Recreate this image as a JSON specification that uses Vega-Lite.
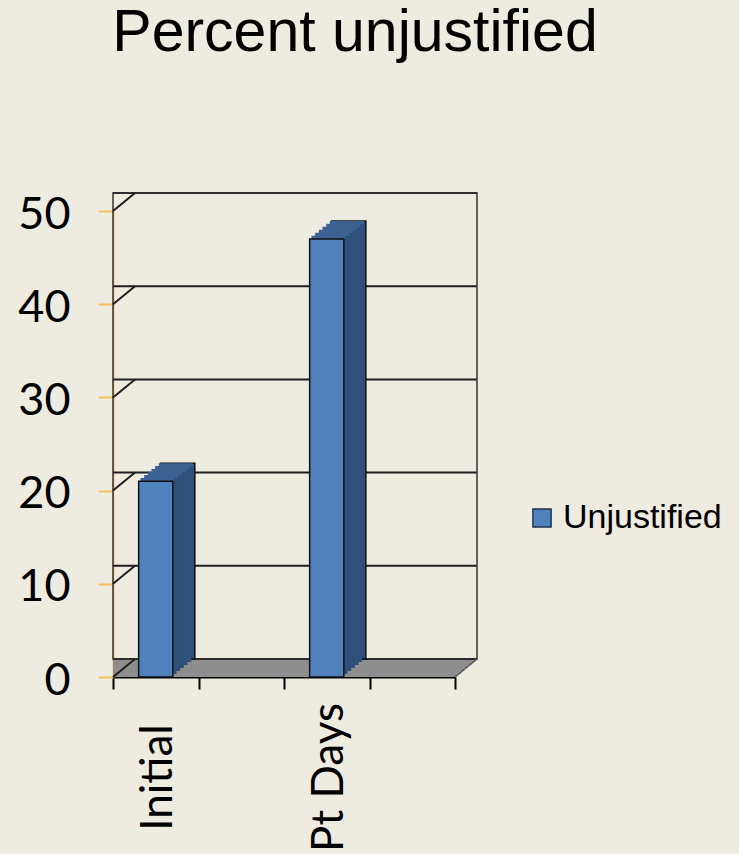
{
  "$schema": "https://vega.github.io/schema/vega-lite/v6.json",
  "autosize": "none",
  "padding": {"left": 113, "top": 211, "right": 284, "bottom": 177},
  "width": 342,
  "height": 466,
  "background": "#eeebe1",
  "config": {"view": {"stroke": null}},
  "title": {
    "text": "Percent unjustified",
    "font": "Liberation Sans",
    "fontSize": 59,
    "fontWeight": "normal",
    "color": "#000000",
    "anchor": "middle",
    "baseline": "alphabetic",
    "dx": 71,
    "offset": 82
  },
  "datasets": {
    "bars": [
      {"category": "Initial", "value": 21, "series": "Unjustified"},
      {"category": "Pt Days", "value": 47, "series": "Unjustified"}
    ],
    "grid": [
      {"tick": 0}, {"tick": 10}, {"tick": 20}, {"tick": 30}, {"tick": 40}, {"tick": 50}
    ]
  },
  "layer": [
    {"data": {"name": "grid"}, "transform": [{"filter": "datum.tick == 0"}],
      "mark": {"type": "rect", "fill": "#8e8e8e", "xOffset": 1.83, "x2Offset": 1.83, "yOffset": 0, "y2Offset": -3.2},
      "encoding": {"y": {"field": "tick", "type": "quantitative", "scale": {"domain": [0, 50], "nice": false}}, "y2": {"field": "tick"}}},
    {"data": {"name": "grid"}, "transform": [{"filter": "datum.tick == 0"}],
      "mark": {"type": "rect", "fill": "#8e8e8e", "xOffset": 5.5, "x2Offset": 5.5, "yOffset": -3, "y2Offset": -6.2},
      "encoding": {"y": {"field": "tick", "type": "quantitative"}, "y2": {"field": "tick"}}},
    {"data": {"name": "grid"}, "transform": [{"filter": "datum.tick == 0"}],
      "mark": {"type": "rect", "fill": "#8e8e8e", "xOffset": 9.17, "x2Offset": 9.17, "yOffset": -6, "y2Offset": -9.2},
      "encoding": {"y": {"field": "tick", "type": "quantitative"}, "y2": {"field": "tick"}}},
    {"data": {"name": "grid"}, "transform": [{"filter": "datum.tick == 0"}],
      "mark": {"type": "rect", "fill": "#8e8e8e", "xOffset": 12.83, "x2Offset": 12.83, "yOffset": -9, "y2Offset": -12.2},
      "encoding": {"y": {"field": "tick", "type": "quantitative"}, "y2": {"field": "tick"}}},
    {"data": {"name": "grid"}, "transform": [{"filter": "datum.tick == 0"}],
      "mark": {"type": "rect", "fill": "#8e8e8e", "xOffset": 16.5, "x2Offset": 16.5, "yOffset": -12, "y2Offset": -15.2},
      "encoding": {"y": {"field": "tick", "type": "quantitative"}, "y2": {"field": "tick"}}},
    {"data": {"name": "grid"}, "transform": [{"filter": "datum.tick == 0"}],
      "mark": {"type": "rect", "fill": "#8e8e8e", "xOffset": 20.17, "x2Offset": 20.17, "yOffset": -15, "y2Offset": -18},
      "encoding": {"y": {"field": "tick", "type": "quantitative"}, "y2": {"field": "tick"}}},
    {
      "data": {"name": "grid"},
      "mark": {"type": "rule", "color": "#1e1e1e", "strokeWidth": 2, "xOffset": 22, "x2Offset": 22, "yOffset": -18, "y2Offset": -18},
      "encoding": {"y": {"field": "tick", "type": "quantitative"}}
    },
    {
      "data": {"name": "grid"},
      "transform": [{"filter": "datum.tick == 50"}],
      "mark": {"type": "rect", "fill": null, "stroke": "#333333", "strokeWidth": 1.5, "xOffset": 22, "x2Offset": 22, "yOffset": -18, "y2Offset": -18},
      "encoding": {"y": {"field": "tick", "type": "quantitative"}, "y2": {"datum": 0}}
    },
    {
      "data": {"name": "grid"},
      "mark": {"type": "rule", "color": "#1e1e1e", "strokeWidth": 2, "x2Offset": 22, "y2Offset": -18},
      "encoding": {
        "x": {"datum": "Initial", "bandPosition": 0, "type": "nominal"},
        "x2": {"datum": "Initial", "bandPosition": 0},
        "y": {"field": "tick", "type": "quantitative"},
        "y2": {"field": "tick"}
      }
    },
    {
      "data": {"name": "grid"},
      "transform": [{"filter": "datum.tick == 0"}],
      "mark": {"type": "rule", "color": "#555555", "strokeWidth": 1.5, "x2Offset": 22, "y2Offset": -18},
      "encoding": {
        "x": {"datum": "  ", "bandPosition": 1, "type": "nominal"},
        "x2": {"datum": "  ", "bandPosition": 1},
        "y": {"field": "tick", "type": "quantitative"},
        "y2": {"field": "tick"}
      }
    },
    {"data": {"name": "bars"},
      "mark": {"type": "bar", "width": {"band": 0.4}, "fill": "#2f5079", "stroke": "#111111", "strokeWidth": 1.5, "xOffset": 22, "x2Offset": 22, "yOffset": -18, "y2Offset": -18},
      "encoding": {"x": {"field": "category", "type": "nominal"}, "y": {"field": "value", "type": "quantitative"}}},
    {"data": {"name": "bars"},
      "mark": {"type": "bar", "width": {"band": 0.4}, "fill": "#2f5079", "xOffset": 18.33, "x2Offset": 18.33, "yOffset": -15, "y2Offset": -15},
      "encoding": {"x": {"field": "category", "type": "nominal"}, "y": {"field": "value", "type": "quantitative"}}},
    {"data": {"name": "bars"},
      "mark": {"type": "bar", "width": {"band": 0.4}, "fill": "#2f5079", "xOffset": 14.67, "x2Offset": 14.67, "yOffset": -12, "y2Offset": -12},
      "encoding": {"x": {"field": "category", "type": "nominal"}, "y": {"field": "value", "type": "quantitative"}}},
    {"data": {"name": "bars"},
      "mark": {"type": "bar", "width": {"band": 0.4}, "fill": "#2f5079", "xOffset": 11, "x2Offset": 11, "yOffset": -9, "y2Offset": -9},
      "encoding": {"x": {"field": "category", "type": "nominal"}, "y": {"field": "value", "type": "quantitative"}}},
    {"data": {"name": "bars"},
      "mark": {"type": "bar", "width": {"band": 0.4}, "fill": "#2f5079", "xOffset": 7.33, "x2Offset": 7.33, "yOffset": -6, "y2Offset": -6},
      "encoding": {"x": {"field": "category", "type": "nominal"}, "y": {"field": "value", "type": "quantitative"}}},
    {"data": {"name": "bars"},
      "mark": {"type": "bar", "width": {"band": 0.4}, "fill": "#2f5079", "xOffset": 3.67, "x2Offset": 3.67, "yOffset": -3, "y2Offset": -3},
      "encoding": {"x": {"field": "category", "type": "nominal"}, "y": {"field": "value", "type": "quantitative"}}},
    {"data": {"name": "bars"},
      "mark": {"type": "bar", "width": {"band": 0.4}, "fill": "#3d6192", "xOffset": 1.83, "x2Offset": 1.83, "yOffset": -3.2, "y2Offset": 0},
      "encoding": {"x": {"field": "category", "type": "nominal"}, "y": {"field": "value", "type": "quantitative"}, "y2": {"field": "value"}}},
    {"data": {"name": "bars"},
      "mark": {"type": "bar", "width": {"band": 0.4}, "fill": "#3d6192", "xOffset": 5.5, "x2Offset": 5.5, "yOffset": -6.2, "y2Offset": -3},
      "encoding": {"x": {"field": "category", "type": "nominal"}, "y": {"field": "value", "type": "quantitative"}, "y2": {"field": "value"}}},
    {"data": {"name": "bars"},
      "mark": {"type": "bar", "width": {"band": 0.4}, "fill": "#3d6192", "xOffset": 9.17, "x2Offset": 9.17, "yOffset": -9.2, "y2Offset": -6},
      "encoding": {"x": {"field": "category", "type": "nominal"}, "y": {"field": "value", "type": "quantitative"}, "y2": {"field": "value"}}},
    {"data": {"name": "bars"},
      "mark": {"type": "bar", "width": {"band": 0.4}, "fill": "#3d6192", "xOffset": 12.83, "x2Offset": 12.83, "yOffset": -12.2, "y2Offset": -9},
      "encoding": {"x": {"field": "category", "type": "nominal"}, "y": {"field": "value", "type": "quantitative"}, "y2": {"field": "value"}}},
    {"data": {"name": "bars"},
      "mark": {"type": "bar", "width": {"band": 0.4}, "fill": "#3d6192", "xOffset": 16.5, "x2Offset": 16.5, "yOffset": -15.2, "y2Offset": -12},
      "encoding": {"x": {"field": "category", "type": "nominal"}, "y": {"field": "value", "type": "quantitative"}, "y2": {"field": "value"}}},
    {"data": {"name": "bars"},
      "mark": {"type": "bar", "width": {"band": 0.4}, "fill": "#3d6192", "xOffset": 20.17, "x2Offset": 20.17, "yOffset": -18, "y2Offset": -15},
      "encoding": {"x": {"field": "category", "type": "nominal"}, "y": {"field": "value", "type": "quantitative"}, "y2": {"field": "value"}}},
    {
      "data": {"name": "bars"},
      "mark": {"type": "bar", "width": {"band": 0.4}, "stroke": "#111111", "strokeWidth": 1.5},
      "encoding": {
        "x": {
          "field": "category",
          "type": "nominal",
          "scale": {"domain": ["Initial", " ", "Pt Days", "  "], "paddingInner": 0, "paddingOuter": 0},
          "axis": {
            "title": null,
            "domainColor": "#000000",
            "domainWidth": 2,
            "tickColor": "#000000",
            "tickWidth": 2,
            "tickSize": 12,
            "tickBand": "extent",
            "labelAngle": -90,
            "labelAlign": "center",
            "labelBaseline": "middle",
            "labelFont": "Lato",
            "labelFontSize": 44,
            "labelColor": "#000000",
            "labelPadding": 88,
            "labelOffset": 3
          }
        },
        "y": {
          "field": "value",
          "type": "quantitative",
          "scale": {"domain": [0, 50], "nice": false},
          "axis": {
            "title": null,
            "grid": false,
            "values": [0, 10, 20, 30, 40, 50],
            "domainColor": "#f5c060",
            "domainWidth": 2,
            "tickColor": "#f5c060",
            "tickWidth": 2,
            "tickSize": 15,
            "labelFont": "Lato",
            "labelFontSize": 45,
            "labelColor": "#000000",
            "labelPadding": 28,
            "labelOffset": 3
          }
        },
        "color": {
          "field": "series",
          "type": "nominal",
          "scale": {"range": ["#4f81bd"]},
          "legend": {
            "title": null,
            "orient": "none",
            "legendX": 412,
            "legendY": 290,
            "padding": 0,
            "symbolType": "square",
            "symbolSize": 330,
            "symbolStrokeColor": "#1f3550",
            "symbolStrokeWidth": 1.5,
            "labelFont": "Liberation Sans",
            "labelFontSize": 34,
            "labelColor": "#000000",
            "labelOffset": 4
          }
        }
      }
    }
  ]
}
